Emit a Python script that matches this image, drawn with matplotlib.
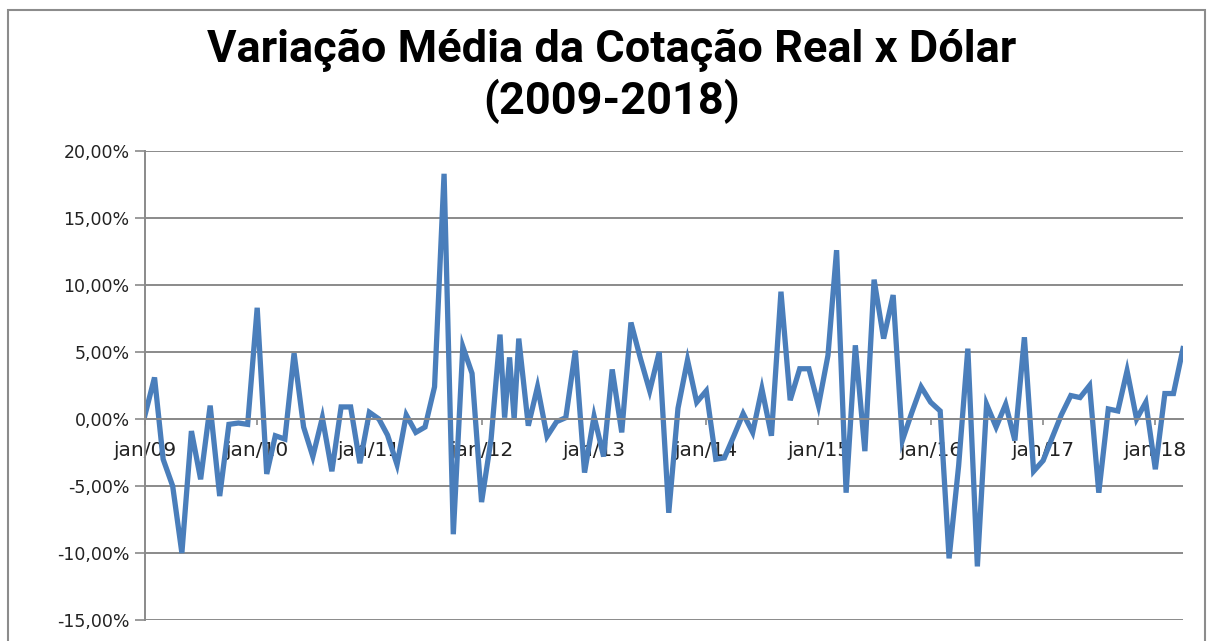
import matplotlib.pyplot as plt
import matplotlib.dates as mdates
from matplotlib.patches import Rectangle
from matplotlib.ticker import FuncFormatter
import pandas as pd

# variação média mensal da cotação real x dólar, em %, de jan/09 a abr/18
var_2009 = [0.3, 3.1, -3.0, -5.0, -10.0, -0.9, -4.5, 1.0, -5.75, -0.4, -0.3, -0.4]
var_2010 = [8.3, -4.1, -1.25, -1.5, 4.9, -0.6, -2.8, 0.1, -3.9, 0.9, 0.9, -3.3]
var_2011 = [0.5, 0.0, -1.2, -3.4, 0.3, -1.0, -0.6, 2.4, 18.3, -8.6, 5.4, 3.4]
var_2012 = [-6.2, -1.5, 6.3, 4.6, 6.0, -0.5, 2.4, -1.3, -0.2, 0.1, 5.1, -4.0]
var_2013 = [0.2, -2.8, 3.7, -1.0, 7.2, 4.5, 2.1, 5.0, -7.0, 0.8, 4.4, 1.25]
var_2014 = [2.1, -3.0, -2.9, -1.25, 0.4, -1.0, 2.25, -1.25, 9.5, 1.4, 3.75, 3.75]
var_2015 = [1.0, 4.75, 12.6, -5.5, 5.5, -2.4, 10.4, 6.0, 9.25, -1.6, 0.5, 2.4]
var_2016 = [1.25, 0.6, -10.4, -3.5, 5.25, -11.0, 1.1, -0.6, 1.1, -1.6, 6.1, -3.9]
var_2017 = [-3.1, -1.3, 0.3, 1.75, 1.6, 2.5, -5.5, 0.75, 0.6, 3.6, 0.0, 1.25]
var_2018 = [-3.75, 1.9, 1.9, 5.25]

# leituras extras de meio de mês (2012)
extra_datas = ["2012-03-16", "2012-04-16"]
extra_valores = [0.1, 0.0]

variacao = (var_2009 + var_2010 + var_2011 + var_2012 + var_2013 +
            var_2014 + var_2015 + var_2016 + var_2017 + var_2018)
meses = pd.date_range("2009-01-01", periods=len(variacao), freq="MS")

serie = pd.Series(variacao, index=meses)
serie = pd.concat([serie, pd.Series(extra_valores, index=pd.to_datetime(extra_datas))])
serie = serie.sort_index()

fonte_titulo = ["Roboto", "DejaVu Sans"]
cinza = "#8a8a8a"

fig = plt.figure(figsize=(12.11, 6.41), dpi=100)
ax = fig.add_axes([145 / 1211, 1 - 620 / 641, (1183 - 145) / 1211, (620 - 151) / 641])

ax.plot(serie.index, serie.values, color="#4a7ebb", lw=3.8, solid_joinstyle="miter")

ax.set_ylim(-15, 20)
ax.set_yticks(range(-15, 21, 5))
ax.yaxis.set_major_formatter(FuncFormatter(lambda v, p: f"{v:.2f}%".replace(".", ",")))
ax.set_xlim(serie.index[0], serie.index[-1])

ax.xaxis.set_major_locator(mdates.YearLocator())
ax.xaxis.set_major_formatter(FuncFormatter(
    lambda v, p: "jan/" + mdates.num2date(v).strftime("%y")))

ax.yaxis.grid(True, color=cinza, lw=1.4)
ax.set_axisbelow(True)
for lado in ["top", "right"]:
    ax.spines[lado].set_visible(False)
ax.spines["left"].set_color(cinza)
ax.spines["left"].set_linewidth(1.4)
ax.spines["bottom"].set_position(("data", 0))
ax.spines["bottom"].set_color(cinza)
ax.spines["bottom"].set_linewidth(1.4)

ax.tick_params(axis="y", direction="out", length=7, width=1.2, color=cinza,
               labelsize=12.5, labelcolor="#222222", pad=4)
ax.tick_params(axis="x", direction="out", length=4, width=1.2, color=cinza,
               labelsize=14.5, labelcolor="#222222", pad=12)

fig.text(0.505, 0.921, "Variação Média da Cotação Real x Dólar", ha="center", va="center",
         fontsize=32.5, fontweight="bold", family=fonte_titulo)
fig.text(0.505, 0.841, "(2009-2018)", ha="center", va="center",
         fontsize=32.5, fontweight="bold", family=fonte_titulo)

# moldura da área do gráfico
fig.patches.append(Rectangle((8 / 1211, -0.1), (1205 - 8) / 1211, 1.092 - 5 / 641,
                             transform=fig.transFigure, fill=False, ec="#8c8c8c", lw=1.5))

fig.savefig("out.png", dpi=100)
